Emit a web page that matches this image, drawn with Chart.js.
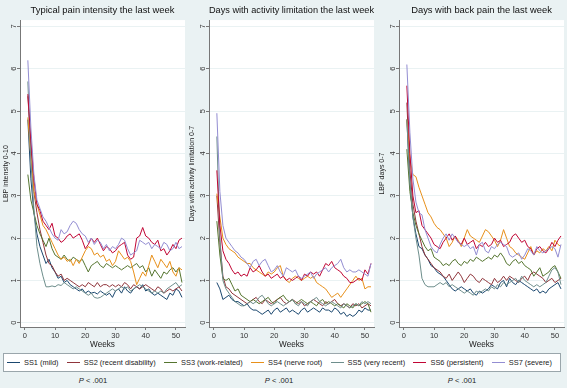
<!DOCTYPE html>
<html>
<head>
<meta charset="utf-8">
<script src="https://cdn.jsdelivr.net/npm/chart.js@4.4.1/dist/chart.umd.min.js"></script>
<style>
  body { margin: 0; width: 567px; height: 388px; background: #eaf2f3; position: relative; overflow: hidden;
         font-family: "Liberation Sans", Arial, sans-serif; }
  canvas { position: absolute; top: 0; }
  #legend { position: absolute; left: 3px; top: 353px; width: 558px; height: 19px; background: #fff;
            border: 1px solid #9aa6ab; display: flex; justify-content: space-between; align-items: center;
            padding: 0 8px 0 3px; box-sizing: border-box; font-size: 7.4px; color: #222; }
  #legend span { display: flex; align-items: center; white-space: nowrap; }
  #legend i { display: inline-block; width: 13px; height: 1.5px; margin-right: 4px; }
  .pval { position: absolute; top: 376px; font-size: 7.6px; color: #222; transform: translateX(-50%); white-space: nowrap; }
</style>
</head>
<body>
<canvas id="c1" width="186" height="350" style="left:0px"></canvas>
<canvas id="c2" width="190" height="350" style="left:186px"></canvas>
<canvas id="c3" width="191" height="350" style="left:376px"></canvas>
<div id="legend"></div>
<div class="pval" style="left:93px"><i>P</i> &lt; .001</div>
<div class="pval" style="left:279px"><i>P</i> &lt; .001</div>
<div class="pval" style="left:462px"><i>P</i> &lt; .001</div>
<script>
const weeks = [1, 2, 3, 4, 5, 6, 7, 8, 9, 10, 11, 12, 13, 14, 15, 16, 17, 18, 19, 20,
  21, 22, 23, 24, 25, 26, 27, 28, 29, 30, 31, 32, 33, 34, 35, 36, 37, 38, 39, 40,
  41, 42, 43, 44, 45, 46, 47, 48, 49, 50, 51, 52];
const xTicks = [0, 10, 20, 30, 40, 50];
const yTicks = [0, 1, 2, 3, 4, 5, 6, 7];

const names = ['SS1 (mild)', 'SS2 (recent disability)', 'SS3 (work-related)', 'SS4 (nerve root)',
  'SS5 (very recent)', 'SS6 (persistent)', 'SS7 (severe)'];
const colors = ['#1a476f', '#90353b', '#55752f', '#e8901a', '#6e8e8c', '#c10534', '#938dd2'];

// typical pain intensity the last week (0-10)
const painSS1 = [4.8, 3.4, 2.6, 2.1, 1.8, 1.6, 1.4, 1.5, 1.3, 1.2,
  1.05, 1.1, 0.95, 1.0, 0.9, 0.85, 0.8, 0.75, 0.8, 0.7,
  0.75, 0.7, 0.72, 0.68, 0.75, 0.7, 0.65, 0.7, 0.6, 0.75,
  0.8, 0.7, 0.85, 0.75, 0.7, 0.8, 0.85, 0.8, 0.9, 0.75,
  0.8, 0.7, 0.65, 0.7, 0.65, 0.6, 0.55, 0.7, 0.65, 0.8,
  0.75, 0.6];
const painSS2 = [5.35, 4.2, 3.1, 2.6, 2.2, 1.9, 1.6, 1.4, 1.35, 1.2,
  1.1, 1.15, 1.0, 1.05, 1.0, 0.95, 0.9, 0.85, 0.9, 0.85,
  0.95, 0.9, 0.85, 0.95, 0.85, 0.9, 0.9, 0.85, 0.9, 0.85,
  0.9, 0.85, 0.95, 0.9, 0.8, 0.9, 0.85, 0.8, 0.85, 0.9,
  0.85, 0.8, 0.75, 0.85, 0.8, 0.7, 0.75, 0.8, 0.75, 0.8,
  0.85, 0.75];
const painSS3 = [3.5, 2.9, 2.6, 2.3, 2.1, 1.95, 1.8, 2.0, 1.75, 1.6,
  1.55, 1.5, 1.6, 1.5, 1.45, 1.55, 1.5, 1.45, 1.5, 1.35,
  1.2, 1.35, 1.4, 1.45, 1.35, 1.3, 1.4, 1.35, 1.3, 1.35,
  1.3, 1.25, 1.3, 1.35, 1.3, 1.35, 1.4, 1.3, 1.35, 1.2,
  1.3, 1.1, 1.25, 1.15, 1.05, 1.2, 1.15, 1.25, 1.3, 1.2,
  1.3, 0.95];
const painSS4 = [4.85, 3.9, 3.1, 2.8, 2.55, 2.3, 2.2, 2.05, 1.9, 1.75,
  1.6, 1.5, 1.55, 1.45, 1.5, 1.35, 1.5, 1.4, 1.55, 1.7,
  1.8, 1.75, 1.6, 1.65, 1.55, 1.6, 1.45, 1.5, 1.35, 1.45,
  1.7, 1.6, 1.5, 1.55, 1.45, 1.2, 0.9, 1.05, 1.2, 1.1,
  1.35, 1.6, 1.45, 1.3, 1.5, 1.4, 1.3, 1.45, 1.2, 1.1,
  1.3, 1.25];
const painSS5 = [5.7, 3.8, 2.7, 1.8, 1.4, 1.1, 0.85, 0.85, 0.87, 0.85,
  0.9, 0.88, 0.95, 0.9, 0.85, 0.8, 0.85, 0.8, 0.75, 0.7,
  0.65, 0.7, 0.6, 0.58, 0.6, 0.65, 0.7, 0.75, 0.8, 0.75,
  0.8, 0.85, 0.8, 0.85, 0.75, 0.8, 0.85, 0.9, 0.85, 0.8,
  0.75, 0.7, 0.75, 0.7, 0.75, 0.7, 0.8, 0.85, 0.9, 0.95,
  0.85, 0.9];
const painSS6 = [5.4, 4.3, 3.4, 2.8, 2.65, 2.4, 2.3, 2.2, 2.35, 2.05,
  2.0, 1.9, 1.95, 2.05, 2.1, 2.0, 2.05, 2.1, 1.95, 1.75,
  1.85, 2.0, 1.9, 2.0, 1.85, 1.7, 1.8, 1.75, 1.65, 1.7,
  1.8, 1.85, 1.9, 1.6, 1.5, 1.55, 2.0, 2.05, 2.25, 2.05,
  2.0, 1.9, 1.85, 1.95, 1.7, 1.75, 1.6, 1.7, 1.85, 1.75,
  1.95, 2.0];
const painSS7 = [6.2, 4.6, 3.5, 2.9, 2.7, 2.5, 2.4, 2.25, 2.1, 2.0,
  1.95, 2.2, 2.1, 2.15, 2.3, 2.4, 2.35, 2.2, 2.1, 2.05,
  1.9, 2.0, 1.85, 1.95, 1.9, 1.75, 1.85, 1.7, 1.8, 1.75,
  1.85, 2.0, 1.95, 1.75, 1.6, 1.65, 1.7, 1.95, 1.9, 1.85,
  1.9, 1.75, 1.85, 1.8, 1.75, 1.9, 1.85, 1.7, 1.75, 1.9,
  1.75, 1.8];

// days with activity limitation the last week (0-7)
const actSS1 = [0.95, 0.8, 0.55, 0.6, 0.65, 0.55, 0.5, 0.5, 0.45, 0.4,
  0.45, 0.35, 0.3, 0.3, 0.25, 0.2, 0.25, 0.3, 0.2, 0.3,
  0.35, 0.25, 0.3, 0.35, 0.25, 0.3, 0.25, 0.2, 0.3, 0.35,
  0.25, 0.3, 0.35, 0.3, 0.25, 0.35, 0.3, 0.3, 0.25, 0.35,
  0.3, 0.2, 0.25, 0.15, 0.2, 0.15, 0.2, 0.3, 0.25, 0.35,
  0.3, 0.3];
const actSS2 = [3.0, 1.9, 1.1, 0.85, 0.8, 0.7, 0.65, 0.6, 0.55, 0.5,
  0.45, 0.5, 0.55, 0.6, 0.5, 0.45, 0.55, 0.5, 0.45, 0.5,
  0.55, 0.6, 0.5, 0.45, 0.5, 0.55, 0.5, 0.45, 0.5, 0.4,
  0.45, 0.5, 0.55, 0.5, 0.45, 0.4, 0.5, 0.45, 0.5, 0.55,
  0.45, 0.4, 0.45, 0.4, 0.35, 0.45, 0.4, 0.45, 0.35, 0.4,
  0.45, 0.4];
const actSS3 = [2.4, 1.6, 1.05, 1.0, 1.05, 0.9, 0.75, 0.8, 0.65, 0.6,
  0.55, 0.5, 0.55, 0.5, 0.45, 0.5, 0.55, 0.6, 0.5, 0.45,
  0.55, 0.6, 0.65, 0.55, 0.5, 0.55, 0.45, 0.5, 0.55, 0.5,
  0.45, 0.5, 0.45, 0.4, 0.5, 0.55, 0.45, 0.5, 0.45, 0.4,
  0.45, 0.4, 0.35, 0.45, 0.4, 0.35, 0.45, 0.4, 0.45, 0.5,
  0.45, 0.25];
const actSS4 = [3.05, 2.5, 2.0, 1.85, 1.75, 1.7, 1.65, 1.55, 1.5, 1.45,
  1.4, 1.4, 1.3, 1.25, 1.2, 1.15, 1.1, 1.2, 1.15, 1.2,
  1.3, 1.35, 1.1, 1.0, 0.95, 1.05, 1.1, 1.05, 1.0, 1.05,
  1.1, 1.05, 1.1, 0.95, 0.9, 0.85, 0.8, 0.7, 0.6, 0.65,
  0.7, 0.6, 0.7, 0.8, 0.9, 1.0, 1.1, 1.0, 1.05, 0.8,
  0.85, 0.85];
const actSS5 = [4.4, 2.0, 1.0, 0.8, 0.7, 0.6, 0.5, 0.45, 0.4, 0.4,
  0.45, 0.5, 0.45, 0.5, 0.6, 0.65, 0.55, 0.45, 0.4, 0.45,
  0.5, 0.45, 0.4, 0.45, 0.5, 0.55, 0.45, 0.4, 0.5, 0.45,
  0.4, 0.5, 0.55, 0.6, 0.5, 0.45, 0.4, 0.45, 0.5, 0.45,
  0.4, 0.35, 0.45, 0.4, 0.35, 0.4, 0.45, 0.4, 0.5, 0.45,
  0.5, 0.45];
const actSS6 = [3.6, 2.3, 1.7, 1.5, 1.4, 1.25, 1.15, 1.2, 1.1, 1.15,
  1.1, 1.3, 1.2, 1.25, 1.35, 1.2, 1.1, 1.15, 1.05, 1.1,
  1.15, 1.05, 1.1, 1.0, 1.05, 1.0, 1.05, 1.1, 1.0, 1.15,
  1.1, 1.2, 1.15, 1.2, 1.1, 1.25, 1.4, 1.35, 1.45, 1.3,
  1.25, 1.2, 1.1, 1.05, 0.95, 0.95, 1.0, 1.05, 1.0, 1.25,
  1.15, 1.4];
const actSS7 = [4.95, 3.1, 2.3, 2.0, 1.9, 1.8, 1.7, 1.65, 1.55, 1.5,
  1.4, 1.3, 1.45, 1.5, 1.35, 1.45, 1.5, 1.35, 1.2, 1.25,
  1.35, 1.2, 1.1, 1.3, 1.25, 1.2, 1.25, 1.1, 1.05, 1.1,
  1.15, 1.2, 1.05, 1.15, 1.2, 1.25, 1.3, 1.2, 1.3, 1.35,
  1.4, 1.5, 1.3, 1.2, 1.25, 1.2, 1.2, 1.25, 1.2, 1.15,
  1.1, 1.4];

// days with back pain the last week (0-7)
const daysSS1 = [4.8, 3.3, 2.5, 2.1, 1.8, 1.75, 1.6, 1.5, 1.35, 1.3,
  1.2, 1.15, 1.1, 1.0, 0.9, 0.8, 0.75, 0.8, 0.85, 0.8,
  0.75, 0.8, 0.7, 0.65, 0.75, 0.7, 0.75, 0.8, 0.9, 0.85,
  0.8, 0.95, 1.0, 0.85, 1.05, 0.95, 0.9, 1.0, 0.95, 0.9,
  0.85, 0.8, 0.75, 0.8, 0.7, 0.75, 0.7, 0.8, 0.85, 0.9,
  0.95, 0.8];
const daysSS2 = [5.2, 3.6, 2.8, 2.4, 2.1, 1.8, 1.6, 1.5, 1.4, 1.3,
  1.25, 1.2, 1.1, 1.05, 1.15, 1.0, 1.1, 1.2, 1.1, 0.95,
  1.05, 1.15, 1.1, 1.0, 0.95, 1.05, 1.0, 0.95, 0.9, 1.05,
  0.95, 1.0, 1.1, 1.0, 1.1, 1.05, 1.0, 0.95, 1.05, 1.1,
  1.0, 1.15, 1.2, 1.15, 1.1, 1.05, 0.95, 1.0, 1.05, 0.95,
  1.0, 1.05];
const daysSS3 = [4.1, 3.1, 2.6, 2.3, 2.1, 1.95, 1.8, 1.7, 1.75, 1.55,
  1.5, 1.45, 1.35, 1.4, 1.35, 1.45, 1.5, 1.4, 1.35, 1.45,
  1.4, 1.5, 1.45, 1.55, 1.5, 1.45, 1.5, 1.55, 1.5, 1.6,
  1.55, 1.65, 1.55, 1.4, 1.35, 1.45, 1.5, 1.4, 1.45, 1.35,
  1.3, 1.25, 1.1, 1.2, 1.3, 1.1, 1.15, 1.2, 1.3, 1.35,
  1.2, 1.05];
const daysSS4 = [4.8, 3.9, 3.5, 3.45, 3.2, 3.0, 2.8, 2.6, 2.5, 2.35,
  2.25, 2.2, 2.1, 2.0, 1.8, 1.9, 2.05, 1.95, 1.8, 2.0,
  2.2, 2.05, 2.0, 1.95, 1.9, 2.05, 2.2, 2.15, 2.05, 1.95,
  1.8, 1.95, 2.2, 2.0, 1.8, 1.75, 1.65, 1.6, 1.55, 1.5,
  1.65, 1.8, 1.6, 1.7, 1.65, 1.75, 1.7, 1.8, 1.7, 1.95,
  1.85, 1.8];
const daysSS5 = [4.8, 3.3, 2.5, 2.0, 1.6, 1.05, 0.9, 0.85, 0.85, 0.85,
  0.9, 0.95, 0.9, 0.95, 0.85, 0.9, 0.85, 0.8, 0.75, 0.7,
  0.75, 0.7, 0.65, 0.75, 0.7, 0.75, 0.8, 0.75, 0.85, 0.8,
  0.9, 0.85, 0.95, 0.9, 0.95, 1.0, 1.05, 0.95, 1.1, 1.0,
  0.95, 0.9, 0.85, 0.9, 0.85, 0.9, 0.95, 1.1, 1.25, 1.3,
  1.2, 0.9];
const daysSS6 = [5.6, 4.0, 3.0, 2.6, 2.65, 2.3, 2.2, 2.1, 2.0, 1.85,
  1.8, 1.75, 1.9, 2.0, 2.1, 1.95, 2.05, 1.9, 1.85, 2.0,
  1.85, 1.9, 1.95, 1.75, 1.85, 1.8, 1.9, 1.8, 1.85, 2.0,
  1.9, 1.95, 1.8, 1.85, 1.9, 2.05, 2.1, 2.0, 1.9, 1.95,
  1.8, 1.75, 1.6, 1.75, 1.8, 1.7, 1.65, 1.75, 1.9, 1.8,
  1.95, 2.05];
const daysSS7 = [6.1, 4.5, 3.4, 2.85, 2.6, 2.55, 2.2, 2.0, 1.8, 1.7,
  1.65, 1.85, 2.0, 2.1, 1.95, 2.1, 2.0, 1.9, 1.85, 1.8,
  1.85, 1.75, 1.8, 1.6, 1.85, 1.9, 1.7, 1.65, 1.8, 1.75,
  1.85, 1.9, 1.85, 1.8, 1.6, 1.55, 1.6, 1.65, 1.5, 1.6,
  1.75, 1.7, 1.6, 1.8, 1.7, 1.65, 1.7, 1.75, 1.8, 1.75,
  1.55, 1.85];

const FONT = '"Liberation Sans", Arial, sans-serif';

// white plot region like stata
const plotBg = {
  id: 'plotBg',
  beforeDraw(chart) {
    const { ctx, chartArea: a } = chart;
    ctx.save();
    ctx.fillStyle = '#ffffff';
    ctx.fillRect(a.left, a.top, a.right - a.left, a.bottom - a.top);
    ctx.restore();
  }
};

function makePanel(id, title, yTitle, series, yWidth, padRight) {
  return new Chart(document.getElementById(id), {
    type: 'line',
    data: {
      datasets: series.map((vals, i) => ({
        label: names[i],
        data: vals.map((v, k) => ({ x: weeks[k], y: v })),
        borderColor: colors[i],
        borderWidth: 1,
        pointRadius: 0,
        tension: 0,
        fill: false,
        order: series.length - i
      }))
    },
    options: {
      responsive: false,
      animation: false,
      layout: { padding: { left: 0, right: padRight, top: 0, bottom: 0 } },
      plugins: {
        legend: { display: false },
        tooltip: { enabled: false },
        title: {
          display: true, text: title, fullSize: false, color: '#111',
          font: { size: 9.4, family: FONT, weight: 'normal' },
          padding: { top: 4.4, bottom: 4.4 }
        }
      },
      scales: {
        x: {
          type: 'linear', min: -1.6, max: 53,
          afterBuildTicks: s => { s.ticks = xTicks.map(v => ({ value: v })); },
          afterFit: s => { s.height = 23; },
          ticks: { font: { size: 7.5, family: FONT }, color: '#333', padding: 1, maxRotation: 0 },
          grid: { drawOnChartArea: false, tickLength: 3, tickColor: '#777' },
          border: { color: '#777' },
          title: { display: true, text: 'Weeks', color: '#222', font: { size: 8.2, family: FONT }, padding: 0 }
        },
        y: {
          min: -0.1, max: 7.15,
          afterBuildTicks: s => { s.ticks = yTicks.map(v => ({ value: v })); },
          afterFit: s => { s.width = yWidth; },
          ticks: { font: { size: 7.5, family: FONT }, color: '#333', padding: 1, minRotation: 90, maxRotation: 90, crossAlign: 'center' },
          grid: { color: '#eaf2f3', tickLength: 3, tickColor: '#777' },
          border: { color: '#777' },
          title: { display: true, text: yTitle, color: '#222', font: { size: 7, family: FONT }, padding: { top: 1.5, bottom: 0 } }
        }
      }
    },
    plugins: [plotBg]
  });
}

makePanel('c1', 'Typical pain intensity the last week', 'LBP intensity 0-10',
  [painSS1, painSS2, painSS3, painSS4, painSS5, painSS6, painSS7], 20, 1);
makePanel('c2', 'Days with activity limitation the last week', 'Days with activity limitation 0-7',
  [actSS1, actSS2, actSS3, actSS4, actSS5, actSS6, actSS7], 23, 2);
makePanel('c3', 'Days with back pain the last week', 'LBP days 0-7',
  [daysSS1, daysSS2, daysSS3, daysSS4, daysSS5, daysSS6, daysSS7], 23, 3);

// shared legend under the three panels
const legend = document.getElementById('legend');
names.forEach((n, i) => {
  const item = document.createElement('span');
  item.innerHTML = `<i style="background:${colors[i]}"></i>${n}`;
  legend.appendChild(item);
});
</script>
</body>
</html>
